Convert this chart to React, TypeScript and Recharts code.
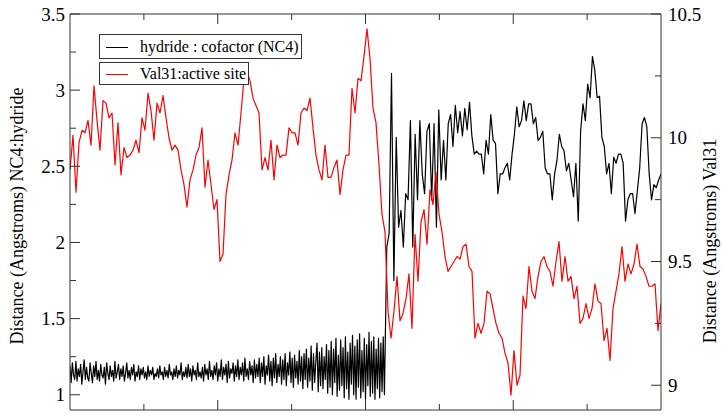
import React from "react";
import { Line, LineChart, XAxis, YAxis } from "recharts";

const T_MAX = 4000;
const EARLY_DT = 8;
const LATE_T0 = 2144;
const LATE_DT = 16;
const RED_DT = T_MAX / 197;

// hydride : cofactor (NC4) distance before the jump (left axis)
const hydrideEarly = [
  1.19, 1.08, 1.21, 1.13, 1.10, 1.22, 1.09, 1.17, 1.12, 1.20, 1.07, 1.15, 1.23, 1.10, 1.18, 1.11, 1.09, 1.21, 1.14, 1.08,
  1.19, 1.12, 1.22, 1.10, 1.16, 1.09, 1.20, 1.13, 1.11, 1.18, 1.07, 1.21, 1.14, 1.10, 1.19, 1.12, 1.16, 1.09, 1.22, 1.11,
  1.15, 1.20, 1.10, 1.17, 1.12, 1.19, 1.09, 1.14, 1.21, 1.11, 1.16, 1.10, 1.18, 1.13, 1.20, 1.09, 1.15, 1.12, 1.19, 1.10,
  1.17, 1.13, 1.18, 1.11, 1.15, 1.10, 1.19, 1.12, 1.16, 1.13, 1.18, 1.10, 1.14, 1.12, 1.17, 1.11, 1.19, 1.13, 1.15, 1.10,
  1.18, 1.12, 1.16, 1.11, 1.20, 1.13, 1.15, 1.10, 1.17, 1.12, 1.19, 1.11, 1.16, 1.13, 1.21, 1.10, 1.15, 1.12, 1.18, 1.11,
  1.20, 1.12, 1.17, 1.09, 1.19, 1.13, 1.16, 1.10, 1.21, 1.12, 1.15, 1.11, 1.18, 1.09, 1.20, 1.13, 1.17, 1.10, 1.22, 1.12,
  1.16, 1.10, 1.19, 1.13, 1.21, 1.09, 1.17, 1.12, 1.23, 1.10, 1.18, 1.13, 1.20, 1.08, 1.22, 1.11, 1.17, 1.14, 1.21, 1.09,
  1.19, 1.12, 1.23, 1.10, 1.18, 1.13, 1.21, 1.09, 1.24, 1.12, 1.17, 1.10, 1.22, 1.13, 1.19, 1.08, 1.23, 1.11, 1.20, 1.12,
  1.24, 1.08, 1.21, 1.12, 1.25, 1.07, 1.19, 1.13, 1.26, 1.09, 1.22, 1.06, 1.24, 1.11, 1.27, 1.08, 1.20, 1.12, 1.25, 1.07,
  1.23, 1.10, 1.27, 1.06, 1.21, 1.13, 1.28, 1.08, 1.24, 1.05, 1.26, 1.11, 1.22, 1.07, 1.29, 1.09, 1.25, 1.04, 1.27, 1.10,
  1.30, 1.05, 1.24, 1.09, 1.32, 1.03, 1.27, 1.08, 1.22, 1.34, 1.02, 1.28, 1.06, 1.31, 1.04, 1.25, 1.10, 1.33, 1.01, 1.29,
  1.05, 1.35, 1.00, 1.30, 1.08, 1.37, 0.99, 1.26, 1.03, 1.36, 1.06, 1.31, 0.98, 1.38, 1.04, 1.28, 0.97, 1.34, 1.07, 1.39,
  1.00, 1.32, 0.97, 1.36, 1.05, 1.40, 0.98, 1.29, 1.02, 1.37, 0.97, 1.33, 1.06, 1.41, 0.99, 1.35, 1.01, 1.38, 0.97, 1.30,
  1.04, 1.37, 0.98, 1.34, 1.02, 1.38, 1.00,
];

// hydride : cofactor (NC4) distance after the jump (left axis)
const hydrideLate = [
  1.97, 2.06, 3.11, 1.75, 2.69, 2.10, 2.21, 1.97, 2.32, 2.28, 2.80, 1.97, 2.71, 2.28, 2.80, 2.45, 2.32, 2.73, 2.78, 2.28,
  2.78, 2.10, 2.87, 2.41, 2.67, 2.41, 2.78, 2.84, 2.63, 2.90, 2.72, 2.86, 2.70, 2.88, 2.74, 2.92, 2.70, 2.58, 2.60, 2.58,
  2.58, 2.45, 2.67, 2.58, 2.84, 2.67, 2.65, 2.32, 2.45, 2.45, 2.49, 2.52, 2.41, 2.58, 2.71,
  2.89, 2.76, 2.80, 2.93, 2.80, 2.91, 2.91, 2.78, 2.82, 2.67, 2.69, 2.73, 2.49, 2.45, 2.45, 2.28, 2.45, 2.54, 2.71, 2.63,
  2.60, 2.47, 2.52, 2.41, 2.30, 2.52, 2.14, 2.73, 2.91, 2.80, 3.04, 2.95, 3.22, 3.13, 2.95, 2.96, 2.69, 2.63, 2.45, 2.52,
  2.32, 2.56, 2.52, 2.58, 2.58, 2.52, 2.14, 2.28, 2.32, 2.32, 2.19, 2.34, 2.49, 2.78, 2.82, 2.76, 2.45, 2.28, 2.38, 2.36,
  2.41, 2.45,
];

// Val31 : active site distance (right axis)
const val31 = [
  9.87, 10.01, 9.78, 9.98, 10.03, 10.02, 10.07, 9.97, 10.21, 10.07, 9.95, 10.15, 10.14, 10.08, 10.10, 9.89, 10.06, 9.85, 9.96, 9.92,
  9.93, 9.95, 9.99, 9.94, 10.08, 10.03, 10.18, 10.11, 9.99, 10.14, 10.10, 10.17, 10.08, 10.00, 9.95, 9.97, 9.95, 9.87, 9.81, 9.72,
  9.83, 9.87, 9.93, 9.96, 10.04, 9.80, 9.91, 9.81, 9.71, 9.75,
  9.50, 9.53, 9.77, 9.85, 9.91, 10.02, 9.97, 10.10, 10.24, 10.27, 10.23, 10.16, 10.13, 10.10, 9.87, 9.92, 9.87, 9.99, 9.83, 9.97,
  9.92, 9.93, 9.93, 10.04, 10.02, 10.02, 9.97, 10.10, 10.12, 10.11, 10.16, 10.04, 9.93, 9.87, 9.83, 9.97, 9.84, 9.84, 9.88, 9.91,
  9.77, 9.87, 9.93, 9.93, 10.20, 10.10, 10.24, 10.23, 10.33, 10.44,
  10.32, 10.12, 10.06, 9.89, 9.69, 9.62, 9.30, 9.19, 9.30, 9.44, 9.26, 9.29, 9.35, 9.45, 9.23, 9.61, 9.42, 9.66, 9.71, 9.57,
  9.79, 9.73, 9.86, 9.69, 9.62, 9.52, 9.46, 9.48, 9.50, 9.52, 9.51, 9.56, 9.57, 9.48, 9.46, 9.19, 9.25, 9.21, 9.25, 9.38,
  9.37, 9.31, 9.25, 9.21, 9.19, 9.13, 9.09, 8.96, 9.14,
  9.00, 9.04, 9.36, 9.31, 9.48, 9.38, 9.35, 9.44, 9.50, 9.52, 9.48, 9.46, 9.40, 9.50, 9.58, 9.42, 9.52, 9.42, 9.44, 9.35,
  9.40, 9.25, 9.27, 9.33, 9.27, 9.31, 9.41, 9.34, 9.33, 9.18, 9.23, 9.10, 9.31, 9.38, 9.45, 9.56, 9.42, 9.49, 9.45, 9.49,
  9.57, 9.48, 9.47, 9.44, 9.40, 9.40, 9.41, 9.22, 9.33,
];

const xTicks = [500, 1000, 1500, 2000, 2500, 3000, 3500];
const leftTicks = [1, 1.25, 1.5, 1.75, 2, 2.25, 2.5, 2.75, 3, 3.25, 3.5];
const rightTicks = [9, 9.25, 9.5, 9.75, 10, 10.25, 10.5];

const hydrideData = [
  ...hydrideEarly.map((v, i) => ({ t: i * EARLY_DT, v })),
  ...hydrideLate.map((v, i) => ({ t: LATE_T0 + i * LATE_DT, v })),
];
const val31Data = val31.map((v, i) => ({ t: i * RED_DT, v }));

const series = [
  { name: "hydride : cofactor (NC4)", color: "#000000", axis: "left", data: hydrideData, width: 1.2 },
  { name: "Val31:active site", color: "#ff0000", axis: "right", data: val31Data, width: 1.2 },
];

const FONT = "'Liberation Serif', 'DejaVu Serif', 'Noto Serif', Times, serif";
const AXIS = "#333";

const halfStep = (v: number) => Math.abs(v * 2 - Math.round(v * 2)) < 1e-6;

const LeftTick = ({ x, y, payload }: any) => {
  const major = halfStep(payload.value);
  return (
    <g>
      <line x1={x} x2={x + (major ? 10 : 6)} y1={y} y2={y} stroke={AXIS} />
      {major && (
        <text x={x - 5} y={y} textAnchor="end" dominantBaseline="central" fill="#000" style={{ fontFamily: FONT, fontSize: 19 }}>
          {payload.value}
        </text>
      )}
    </g>
  );
};

const RightTick = ({ x, y, payload }: any) => {
  const major = halfStep(payload.value);
  return (
    <g>
      <line x1={x} x2={x - (major ? 10 : 6)} y1={y} y2={y} stroke={AXIS} />
      {major && (
        <text x={x + 7} y={y} textAnchor="start" dominantBaseline="central" fill="#000" style={{ fontFamily: FONT, fontSize: 19 }}>
          {payload.value}
        </text>
      )}
    </g>
  );
};

const BottomTick = ({ x, y, payload }: any) => {
  const len = payload.value % 1000 === 0 ? 10 : 6;
  return <line x1={x} x2={x} y1={y} y2={y - len} stroke={AXIS} />;
};

const TopTick = ({ x, y, payload }: any) => {
  const len = payload.value % 1000 === 0 ? 10 : 6;
  return <line x1={x} x2={x} y1={y} y2={y + len} stroke={AXIS} />;
};

const axisTitle = (text: string, dx: number, cy: number) => (props: any) => {
  const vb = props.viewBox || { x: 0 };
  const x = vb.x + dx;
  return (
    <text
      x={x}
      y={cy}
      transform={`rotate(-90 ${x} ${cy})`}
      textAnchor="middle"
      dominantBaseline="central"
      fill="#000"
      style={{ fontFamily: FONT, fontSize: 18 }}
    >
      {text}
    </text>
  );
};

const Legend = () => (
  <div style={{ position: "absolute", left: 99, top: 34, fontFamily: FONT, fontSize: 16 }}>
    {series.map((s, i) => (
      <div
        key={s.name}
        style={{
          position: "relative",
          boxSizing: "border-box",
          height: i === 0 ? 25 : 23,
          marginBottom: 3,
          border: `1px solid ${AXIS}`,
          background: "#fff",
          paddingLeft: 40,
          paddingRight: 2,
          display: "inline-flex",
          alignItems: "center",
          whiteSpace: "nowrap",
          lineHeight: 1,
          clear: "both",
          float: "left",
        }}
      >
        <span
          style={{
            position: "absolute",
            left: 6,
            top: "50%",
            width: 22,
            borderTop: `1px solid ${s.color}`,
          }}
        />
        {s.name}
      </div>
    ))}
  </div>
);

export default function App() {
  return (
    <div style={{ position: "absolute", left: 0, top: 0, width: 724, height: 417, background: "#fff", fontFamily: FONT }}>
      <LineChart width={724} height={417} margin={{ top: 0, right: 0, bottom: 0, left: 0 }}>
        <XAxis
          xAxisId="b"
          type="number"
          dataKey="t"
          domain={[0, T_MAX]}
          ticks={xTicks}
          interval={0}
          height={7}
          tickSize={0}
          tickMargin={0}
          tickLine={false}
          axisLine={{ stroke: AXIS }}
          tick={(p: any) => <BottomTick {...p} />}
          allowDataOverflow
        />
        <XAxis
          xAxisId="t"
          orientation="top"
          type="number"
          dataKey="t"
          domain={[0, T_MAX]}
          ticks={xTicks}
          interval={0}
          height={14}
          tickSize={0}
          tickMargin={0}
          tickLine={false}
          axisLine={{ stroke: AXIS }}
          tick={(p: any) => <TopTick {...p} />}
          allowDataOverflow
        />
        <YAxis
          yAxisId="left"
          orientation="left"
          type="number"
          width={70}
          domain={[0.9, 3.5]}
          ticks={leftTicks}
          interval={0}
          tickSize={0}
          tickMargin={0}
          tickLine={false}
          axisLine={{ stroke: AXIS }}
          tick={(p: any) => <LeftTick {...p} />}
          allowDataOverflow
          label={axisTitle("Distance (Angstroms) NC4:hydride", 17, 216)}
        />
        <YAxis
          yAxisId="right"
          orientation="right"
          type="number"
          width={63}
          domain={[8.9, 10.5]}
          ticks={rightTicks}
          interval={0}
          tickSize={0}
          tickMargin={0}
          tickLine={false}
          axisLine={{ stroke: AXIS }}
          tick={(p: any) => <RightTick {...p} />}
          allowDataOverflow
          label={axisTitle("Distance (Angstroms) Val31", 49, 241)}
        />
        {series.map((s) => (
          <Line
            key={s.name}
            name={s.name}
            xAxisId="b"
            yAxisId={s.axis}
            data={s.data}
            dataKey="v"
            type="linear"
            stroke={s.color}
            strokeWidth={s.width}
            strokeLinejoin="round"
            dot={false}
            activeDot={false}
            isAnimationActive={false}
          />
        ))}
      </LineChart>
      <Legend />
    </div>
  );
}
